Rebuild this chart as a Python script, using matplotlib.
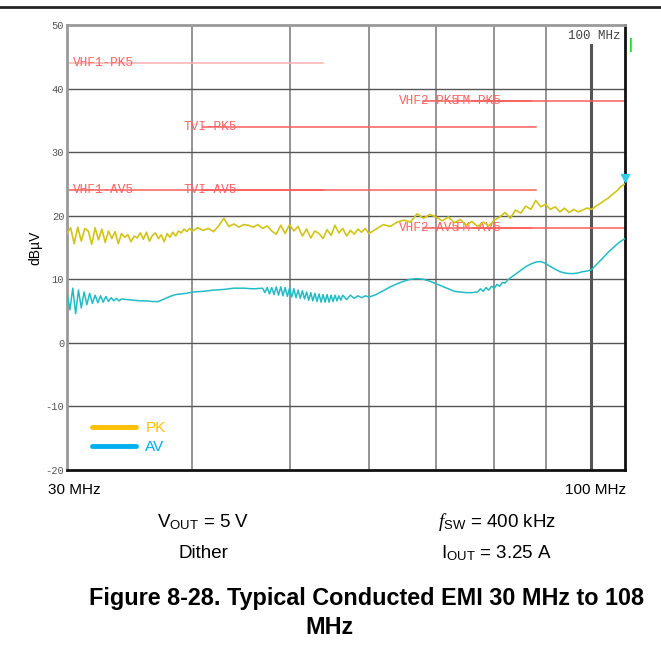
import matplotlib
matplotlib.use("Agg")
import matplotlib.pyplot as plt
from matplotlib.lines import Line2D

plt.rcParams["font.family"] = ["Liberation Sans", "DejaVu Sans"]
plt.rcParams["mathtext.fontset"] = "custom"
plt.rcParams["mathtext.rm"] = "Liberation Sans"
plt.rcParams["mathtext.it"] = "Liberation Serif:italic"

# Peak trace (MHz, dBuV)
pk_freq = [30.0, 30.25, 30.5, 30.75, 31.0, 31.25, 31.5, 31.75, 32.0, 32.25, 32.5, 32.75, 33.0,
           33.25, 33.5, 33.75, 34.0, 34.25, 34.5, 34.75, 35.0, 35.25, 35.5,
           35.75, 36.0, 36.25, 36.5, 36.75, 37.0, 37.25, 37.5, 37.75, 38.0, 38.25, 38.5, 38.75,
           39.0, 39.25, 39.5, 39.75, 40.0, 40.5, 41.0, 41.5, 42.0,
           42.5, 43.0, 43.5, 44.0, 44.5, 45.0, 45.5, 46.0, 46.5, 47.0, 47.5, 48.0,
           48.5, 49.0, 49.5, 50.0, 50.5, 51.0, 51.5, 52.0, 52.5, 53.0, 53.5, 54.0,
           54.5, 55.0, 55.5, 56.0, 56.5, 57.0, 57.5, 58.0, 58.5, 59.0, 59.5, 60.0,
           61, 62, 63, 64, 65, 66, 67, 68, 69, 70, 71, 72, 73, 74, 75, 76, 77, 78, 79, 80,
           81, 82, 83, 84, 85, 86, 87, 88, 89, 90, 91, 92, 93, 94, 95, 96, 97, 98, 99, 100,
           101, 102, 103, 104, 105, 106, 107, 108]
pk_level = [17.2, 18.1, 15.6, 18.2, 16.0, 18.0, 17.6, 15.5, 18.1, 16.2, 17.9, 15.8, 17.6,
            16.4, 17.5, 15.6, 17.2, 16.6, 17.0, 15.9, 16.8, 16.5, 17.3,
            16.3, 17.4, 16.0, 16.9, 17.3, 16.4, 17.0, 15.9, 17.2, 16.6, 17.4, 16.8, 17.6,
            17.3, 17.9, 17.5, 18.0, 17.6, 18.1, 17.7, 18.0, 17.5,
            18.4, 19.6, 18.3, 18.7, 18.2, 18.6, 18.5, 18.2, 18.6, 18.0, 18.4, 17.6,
            17.1, 18.5, 17.2, 18.6, 17.6, 18.3, 16.8, 17.9, 16.5, 17.6, 17.2, 16.4,
            17.8, 16.9, 18.5, 17.3, 18.0, 16.8, 17.7, 17.1, 17.9, 17.4, 18.0, 17.2,
            17.9, 18.6, 18.3, 19.0, 19.3, 19.0, 20.3, 19.6, 20.2, 19.8, 19.2, 19.8, 18.9, 19.4,
            18.5, 19.1, 18.3, 19.0, 18.4, 19.3,
            19.8, 20.5, 19.6, 20.9, 20.4, 21.5, 21.0, 22.4, 21.4, 21.8, 21.0, 21.4, 20.6, 21.2,
            20.5, 21.0, 20.6, 20.9, 21.2, 21.0,
            21.5, 21.9, 22.4, 22.8, 23.4, 23.9, 24.6, 25.0]

# Average trace (MHz, dBuV)
av_freq = [30.0, 30.2, 30.4, 30.6, 30.8, 31.0, 31.2, 31.4, 31.6, 31.8, 32.0, 32.2, 32.4, 32.6,
           32.8, 33.0, 33.2, 33.4, 33.6, 33.8, 34.0,
           34.5, 35.0, 35.5, 36.0, 36.5, 37.0, 37.5, 38.0, 38.5, 39.0, 39.5, 40.0,
           41.0, 42.0, 43.0, 44.0, 45.0, 46.0, 47.0,
           47.25, 47.5, 47.75, 48.0, 48.25, 48.5, 48.75, 49.0, 49.25, 49.5, 49.75, 50.0,
           50.25, 50.5, 50.75, 51.0, 51.25, 51.5, 51.75, 52.0, 52.25, 52.5, 52.75, 53.0,
           53.25, 53.5, 53.75, 54.0, 54.25, 54.5, 54.75, 55.0, 55.25, 55.5, 55.75, 56.0,
           56.25, 56.5, 57.0, 57.5, 58.0, 58.5, 59.0, 59.5, 60.0,
           61, 62, 63, 64, 65, 66, 67, 68, 69, 70, 71, 72, 73, 74, 75, 76,
           77, 77.5, 78, 78.5, 79, 79.5, 80, 80.5, 81, 81.5, 82, 82.5,
           83, 84, 85, 86, 87, 88, 89, 90, 91, 92, 93, 94, 95, 96, 97, 98, 99, 100,
           101, 102, 103, 104, 105, 106, 107, 108]
av_level = [7.8, 5.2, 8.6, 4.6, 8.3, 5.5, 8.0, 6.0, 7.8, 6.2, 7.5, 6.3, 7.4, 6.4,
            7.3, 6.5, 7.1, 6.6, 7.0, 6.6, 6.9,
            6.8, 6.7, 6.6, 6.6, 6.5, 6.5, 6.9, 7.3, 7.6, 7.7, 7.8, 8.0,
            8.1, 8.3, 8.4, 8.6, 8.6, 8.5, 8.6,
            7.9, 8.7, 7.7, 8.7, 7.6, 8.8, 7.5, 8.8, 7.4, 8.7, 7.3, 8.6,
            7.2, 8.5, 7.1, 8.3, 7.0, 8.2, 6.9, 8.0, 6.7, 7.9, 6.6, 7.8,
            6.5, 7.7, 6.4, 7.6, 6.4, 7.6, 6.4, 7.5, 6.5, 7.5, 6.6, 7.4,
            6.7, 7.5, 6.8, 7.5, 7.0, 7.4, 7.1, 7.4, 7.2,
            7.6, 8.2, 8.8, 9.3, 9.7, 10.0, 10.1, 10.0, 9.7, 9.3, 8.9, 8.5, 8.1, 8.0, 7.9, 7.9,
            8.0, 8.5, 8.1, 8.7, 8.3, 8.9, 8.6, 9.2, 8.9, 9.5, 9.4, 9.9,
            10.2, 10.8, 11.4, 12.0, 12.4, 12.7, 12.8, 12.5, 12.0, 11.6, 11.2, 11.0, 10.9, 10.9,
            11.0, 11.2, 11.3, 11.5,
            12.2, 12.9, 13.6, 14.3, 14.9, 15.5, 16.0, 16.4]

# CISPR 25 class 5 limit lines
limit_names = ["VHF1-PK5", "VHF1-AV5", "TVI-PK5", "TVI-AV5",
               "VHF2-PK5", "VHF2-AV5", "FM-PK5", "FM-AV5"]
limit_start = [30, 30, 41, 41, 68, 68, 76, 76]
limit_stop = [54, 54, 88, 88, 87, 87, 108, 108]
limit_level = [44, 24, 34, 24, 38, 18, 38, 18]
label_dx = [4.5, 4.5, -14, -14, -18, -18, -12, -12]  # points

grid_freqs = [40, 50, 60, 70, 80, 90]
y_ticks = [-20, -10, 0, 10, 20, 30, 40, 50]

fig = plt.figure(figsize=(6.61, 6.50), dpi=100)
ax = fig.add_axes([67 / 661, 1 - 470 / 650, 558 / 661, 445 / 650])

ax.set_xscale("log")
ax.set_xlim(30, 108)
ax.set_ylim(-20, 50)

for f in grid_freqs:
    ax.axvline(f, color="#777777", lw=1.1, zorder=1)
ax.axvline(100, ymax=0.955, color="#555555", lw=2.2, zorder=1)
for y in y_ticks[1:-1]:
    ax.axhline(y, color="#555555", lw=1.0, zorder=1)

# limit lines
for name, f0, f1, lvl, dx in zip(limit_names, limit_start, limit_stop, limit_level, label_dx):
    col = "#ffb0b0" if name == "VHF1-PK5" else "#ff5c5c"
    ax.plot([f0, f1], [lvl, lvl], color=col, lw=1.1, zorder=2)
    ax.annotate(name, (f0, lvl), xytext=(dx, 0), textcoords="offset points",
                ha="left", va="center", fontsize=9.2, family="Liberation Mono",
                color="#ff6262", zorder=3)

ax.plot(pk_freq, pk_level, color="#d2c417", lw=1.2, zorder=4)
ax.plot(av_freq, av_level, color="#22bcc4", lw=1.1, zorder=4)

# marker at end of trace
ax.plot([pk_freq[-1]], [pk_level[-1] + 0.9], marker="v", color="#33ccee", ms=6,
        clip_on=False, zorder=6)

ax.set_yticks(y_ticks)
ax.set_yticklabels([str(v) for v in y_ticks], family="Liberation Mono",
                   fontsize=7.5, color="#555555")
ax.tick_params(axis="y", length=0, pad=2)
ax.set_xticks([])
ax.set_xticks([], minor=True)
ax.set_ylabel("dBµV", fontsize=10, labelpad=2)

for side in ["left", "top"]:
    ax.spines[side].set_color("#999999")
    ax.spines[side].set_linewidth(2)
for side in ["right", "bottom"]:
    ax.spines[side].set_color("#111111")
    ax.spines[side].set_linewidth(2)

ax.text(0.992, 0.975, "100 MHz", transform=ax.transAxes, ha="right", va="center",
        family="Liberation Mono", fontsize=9, color="#444444", zorder=5)
ax.text(1.008, 0.955, "|", transform=ax.transAxes, ha="left", va="center",
        fontsize=10, color="#22dd22", fontweight="bold")

handles = [Line2D([], [], color="#ffc000", lw=3.5, solid_capstyle="round"),
           Line2D([], [], color="#00b0f0", lw=3.5, solid_capstyle="round")]
ax.legend(handles, ["PK", "AV"], loc="lower left", bbox_to_anchor=(0.02, 0.005),
          frameon=False, fontsize=11, handlelength=2.9, handletextpad=0.6,
          labelspacing=0.3, labelcolor=["#ffc000", "#00b0f0"])

fig.text(48 / 661, 1 - 490 / 650, "30 MHz", ha="left", va="center", fontsize=11)
fig.text(626 / 661, 1 - 490 / 650, "100 MHz", ha="right", va="center", fontsize=11)

fig.text(203 / 661, 1 - 522 / 650, r"V$_{\mathrm{OUT}}$ = 5 V", ha="center", va="center", fontsize=13.5)
fig.text(203 / 661, 1 - 553 / 650, "Dither", ha="center", va="center", fontsize=13.5)
fig.text(497 / 661, 1 - 522 / 650, r"$f$$_{\mathrm{SW}}$ = 400 kHz", ha="center", va="center", fontsize=13.5)
fig.text(497 / 661, 1 - 553 / 650, r"I$_{\mathrm{OUT}}$ = 3.25 A", ha="center", va="center", fontsize=13.5)

fig.text(367 / 661, 1 - 598 / 650, "Figure 8-28. Typical Conducted EMI 30 MHz to 108",
         ha="center", va="center", fontsize=16.8, fontweight="bold")
fig.text(329 / 661, 1 - 627 / 650, "MHz", ha="center", va="center", fontsize=16.8, fontweight="bold")

fig.add_artist(Line2D([0, 1], [1 - 7 / 650, 1 - 7 / 650], color="#222222", lw=2,
                      transform=fig.transFigure))

fig.savefig("out.png", dpi=100)
